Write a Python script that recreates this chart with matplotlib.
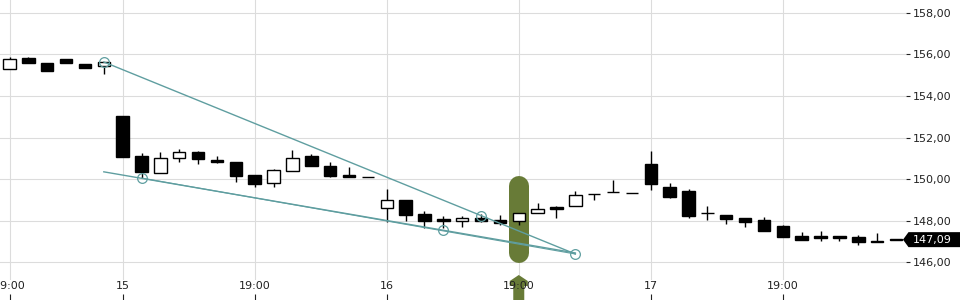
import matplotlib
matplotlib.use('Agg')
import matplotlib.pyplot as plt
import matplotlib.transforms as mtransforms
from matplotlib.patches import Rectangle, Polygon

# one candle per slot, left to right
opens = [155.28, 155.81, 155.57, 155.76, 155.52, 155.45,
         153.03, 151.11, 150.28, 151.00, 151.30, 150.92, 150.82, 150.20, 149.83, 150.40, 151.11,
         150.63, 150.21, 150.10, 148.60, 149.00, 148.32, 148.08, 148.00, 148.13, 148.03,
         147.97, 148.36, 148.66, 148.69, 149.28, 149.37, 149.32,
         150.73, 149.62, 149.43, 148.36, 148.27, 148.13, 148.03, 147.75, 147.26, 147.26, 147.26, 147.22, 147.04, 147.10]
closes = [155.77, 155.60, 155.21, 155.60, 155.36, 155.62,
          151.08, 150.36, 151.00, 151.29, 150.98, 150.84, 150.16, 149.76, 150.44, 151.00, 150.63,
          150.16, 150.12, 150.09, 148.98, 148.29, 148.00, 148.00, 148.13, 148.00, 147.90,
          148.36, 148.56, 148.58, 149.22, 149.28, 149.37, 149.32,
          149.78, 149.14, 148.23, 148.36, 148.08, 147.95, 147.52, 147.22, 147.07, 147.18, 147.18, 146.99, 146.96, 147.09]
highs = [155.86, 155.87, 155.57, 155.76, 155.52, 155.62,
         153.03, 151.24, 151.30, 151.45, 151.35, 151.11, 150.82, 150.20, 150.50, 151.40, 151.19,
         150.81, 150.60, 150.10, 149.52, 149.00, 148.47, 148.23, 148.23, 148.32, 148.27,
         148.36, 148.84, 148.71, 149.43, 149.28, 149.96, 149.32,
         151.35, 149.83, 149.52, 148.71, 148.27, 148.13, 148.18, 147.77, 147.46, 147.50, 147.26, 147.31, 147.41, 147.10]
lows = [155.28, 155.60, 155.21, 155.60, 155.36, 155.07,
        151.08, 150.04, 150.28, 150.84, 150.74, 150.77, 149.88, 149.63, 149.63, 150.40, 150.63,
        150.12, 150.12, 150.09, 147.95, 148.00, 147.63, 147.63, 147.71, 147.95, 147.79,
        147.79, 148.36, 148.14, 148.69, 148.99, 149.37, 149.32,
        149.48, 149.09, 148.13, 148.03, 147.83, 147.70, 147.52, 147.22, 147.07, 147.04, 147.04, 146.85, 146.96, 147.09]

tick_pos = [0, 6, 13, 20, 27, 34, 41]
tick_labels = ['19:00', '15', '19:00', '16', '19:00', '17', '19:00']
price_ticks = [146, 148, 150, 152, 154, 156, 158]
last_price = 147.09

# highlighted bar
highlight_bar = 27
highlight_lo, highlight_hi = 146.45, 149.67

# drawn trend lines
upper_x, upper_y = [5, 30], [155.63, 146.40]
lower_x, lower_y = [5, 30], [150.35, 146.45]
inner_x, inner_y = [7, 30], [150.05, 146.40]
marker_x = [5, 7, 23, 25, 30]
marker_y = [155.63, 150.05, 147.55, 148.25, 146.40]

teal = '#5f9ea0'
olive = '#687b37'
grid_c = '#dcdcdc'
txt_c = '#222222'

fig = plt.figure(figsize=(9.6, 3), dpi=100)
ax = fig.add_axes([0, 20 / 300, 906 / 960, 280 / 300])
ax.set_xlim(-0.504, 47.53)
ax.set_ylim(145.15, 158.61)

for p in price_ticks:
    ax.axhline(p, color=grid_c, lw=0.8, zorder=0)
for t in tick_pos:
    ax.axvline(t, color=grid_c, lw=0.8, zorder=0)

# highlight pill
ax.plot([highlight_bar, highlight_bar], [highlight_lo, highlight_hi], color=olive,
        lw=14.4, solid_capstyle='round', zorder=1)

w = 0.66
for i, (o, h, l, c) in enumerate(zip(opens, highs, lows, closes)):
    up = c > o
    ax.vlines(i, l, h, color='black', lw=1.0, zorder=2)
    ax.add_patch(Rectangle((i - w / 2, min(o, c)), w, abs(c - o),
                           facecolor='white' if up else 'black',
                           edgecolor='black', lw=1.0, zorder=3))

ax.plot(upper_x, upper_y, color=teal, lw=1.0, zorder=4)
ax.plot(lower_x, lower_y, color=teal, lw=1.0, zorder=4)
ax.plot(inner_x, inner_y, color=teal, lw=0.8, zorder=4)
ax.plot(marker_x, marker_y, 'o', ms=7, mfc='none', mec=teal, mew=0.9, zorder=5)

# up arrow under the highlighted bar
arrow_px = [(0, 5), (9, -1), (9, -6), (5.5, -6), (5.5, -20), (-5.5, -20),
            (-5.5, -6), (-9, -6), (-9, -1)]
blend_x = mtransforms.blended_transform_factory(ax.transData, ax.transAxes)
arrow_tr = fig.dpi_scale_trans + mtransforms.ScaledTranslation(highlight_bar, 0, blend_x)
ax.add_patch(Polygon([(x / 100, y / 100) for x, y in arrow_px], closed=True,
                     facecolor=olive, edgecolor='none', transform=arrow_tr,
                     clip_on=False, zorder=1))

# last price tag
blend_y = mtransforms.blended_transform_factory(ax.transAxes, ax.transData)
tag_tr = fig.dpi_scale_trans + mtransforms.ScaledTranslation(1.0, last_price, blend_y)
tag_px = [(-3, 0), (2.5, 7.5), (60, 7.5), (60, -7.5), (2.5, -7.5)]
ax.add_patch(Polygon([(x / 100, y / 100) for x, y in tag_px], closed=True,
                     facecolor='black', edgecolor='none', transform=tag_tr,
                     clip_on=False, zorder=6))
ax.text(7 / 100, 0, f'{last_price:.2f}'.replace('.', ','), transform=tag_tr,
        color='white', fontsize=8, va='center', ha='left', zorder=7)

for s in ax.spines.values():
    s.set_visible(False)

ax.yaxis.tick_right()
ax.set_yticks(price_ticks)
ax.set_yticklabels([f'{p:.2f}'.replace('.', ',') for p in price_ticks])
ax.tick_params(axis='y', length=2.8, width=0.8, pad=2, colors=txt_c, labelsize=8)

ax.set_xticks(tick_pos)
ax.set_xticklabels(tick_labels)
ax.tick_params(axis='x', length=0, pad=0.5, colors=txt_c, labelsize=8)
ax.xaxis.set_zorder(8)

sec = ax.secondary_xaxis(-20 / 280)
sec.set_xticks(tick_pos)
sec.tick_params(direction='in', length=4.3, width=0.8, labelbottom=False, colors=txt_c)
sec.spines['bottom'].set_visible(False)

fig.savefig('out.png', dpi=100)
